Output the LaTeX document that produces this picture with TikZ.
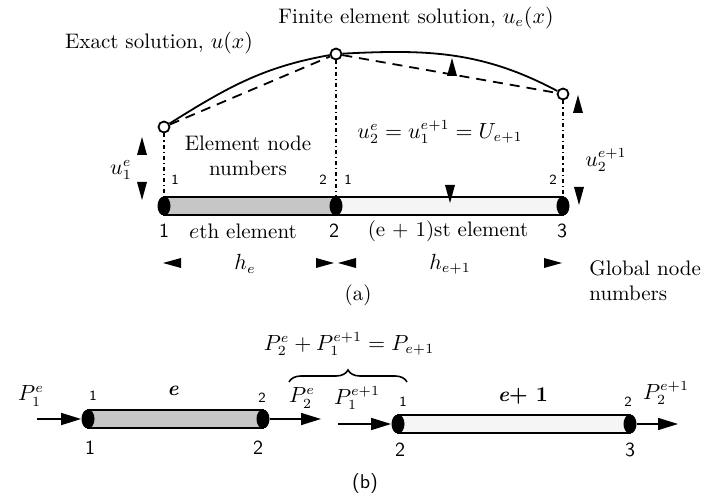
\documentclass[tikz,border=0pt]{standalone}
\usetikzlibrary{arrows.meta,shapes.geometric,decorations.pathreplacing}
\begin{document}
\begin{tikzpicture}[x=0.5pt,y=-0.5pt,
  every node/.style={font=\fontsize{10.5}{12.5}\selectfont,inner sep=1pt},
  opendot/.style={circle,draw,fill=white,line width=0.9pt,minimum size=5.5pt,inner sep=0pt},
  gdot/.style={ellipse,fill=black,minimum width=6.5pt,minimum height=9.5pt,inner sep=0pt},
  lnum/.style={font=\sffamily\scriptsize},
  gnum/.style={font=\sffamily\fontsize{10}{12}\selectfont},
  dimdash/.style={line width=0.6pt,dash pattern=on 2pt off 1.5pt on 0.6pt off 1.5pt},
  force/.style={line width=0.8pt,-{Triangle[length=10pt,width=6pt]}},
  elbar/.style={line width=1pt},
  tri/.pic={\fill (0,0) -- (-5,18) -- (5,18) -- cycle;}]
  \useasboundingbox (0,0) rectangle (713,502);

  % (a) exact and finite element solution
  \node[opendot] (ua) at (164,127) {};
  \node[opendot] (ub) at (336,54) {};
  \node[opendot] (uc) at (563,94) {};
  \draw[line width=0.9pt] (ua) to[out=32,in=190] (ub) to[out=3,in=152] (uc);
  \draw[line width=0.9pt,dash pattern=on 5pt off 3.5pt] (ua) -- (ub) -- (uc);
  \node (exact) at (159,43) {Exact solution, $u(x)$};
  \node (fesol) at (416,18) {Finite element solution, $u_e(x)$};

  % (a) the two elements
  \draw[elbar,fill=gray!45] (164,197) rectangle (336,215);
  \draw[elbar,fill=gray!8] (336,197) rectangle (563,215);
  \node[gdot] (g1) at (164,206) {};
  \node[gdot] (g2) at (336,206) {};
  \node[gdot] (g3) at (563,206) {};
  \draw[dimdash] (ua) -- (g1);
  \draw[dimdash] (ub) -- (g2);
  \draw[dimdash] (uc) -- (g3);

  % local and global numbers
  \node[lnum] (l1) at (175,180) {1};
  \node[lnum] (l2) at (323,180) {2};
  \node[lnum] (l3) at (348,180) {1};
  \node[lnum] (l4) at (553,180) {2};
  \node (elnum) at (248,156) [align=center] {Element node\\numbers};
  \node[gnum] (n1) at (164,231) {1};
  \node (eth) at (243,231) {$e$th element};
  \node[gnum] (n2) at (334,231) {2};
  \node (est) at (448,231) {(e + 1)st element};
  \node[gnum] (n3) at (562,231) {3};

  % nodal values
  \pic at (142,137) {tri};
  \pic[rotate=180] at (142,200) {tri};
  \node (u1e) at (121,170) {$u^e_1$};
  \pic at (452,58) {tri};
  \pic[rotate=180] at (450,203) {tri};
  \node (ushared) at (440,132) {$u^e_2 = u^{e+1}_1 = U_{e+1}$};
  \pic at (578,95) {tri};
  \pic[rotate=180] at (579,205) {tri};
  \node (u2e) at (606,160) {$u^{e+1}_2$};

  % element lengths
  \pic[rotate=90] at (163,263) {tri};
  \pic[rotate=-90] at (334,263) {tri};
  \pic[rotate=90] at (338,263) {tri};
  \pic[rotate=-90] at (562,263) {tri};
  \node (he) at (245,264) {$h_e$};
  \node (he1) at (450,264) {$h_{e+1}$};
  \node (glob) at (587,281) [anchor=west,align=left] {Global node\\numbers};
  \node (capa) at (358,295) {(a)};

  % (b) assembly of the nodal forces
  \node (psum) at (349,344) {$P^e_2 + P^{e+1}_1 = P_{e+1}$};
  \draw[line width=0.8pt,decorate,decoration={brace,amplitude=6pt}] (289,382) -- (407,382);

  \draw[elbar,fill=gray!45] (88,410) rectangle (263,428);
  \draw[elbar,fill=gray!8] (398,415) rectangle (630,433);
  \node[gdot] (b1) at (88,419) {};
  \node[gdot] (b2) at (263,419) {};
  \node[gdot] (b3) at (398,424) {};
  \node[gdot] (b4) at (630,424) {};
  \coordinate (f1) at (37,419);
  \coordinate (f2) at (321,419);
  \coordinate (f3) at (338,424);
  \coordinate (f4) at (678,424);
  \draw[force] (f1) -- (b1);
  \draw[force] (b2) -- (f2);
  \draw[force] (f3) -- (b3);
  \draw[force] (b4) -- (f4);

  \node (p1e) at (31,396) {$P^e_1$};
  \node (p2e) at (302,398) {$P^e_2$};
  \node (p1e1) at (357,398) {$P^{e+1}_1$};
  \node (p2e1) at (666,393) {$P^{e+1}_2$};
  \node[lnum] (m1) at (93,396) {1};
  \node (ele) at (173,391) {\textbf{\textit{e}}};
  \node[lnum] (m2) at (262,398) {2};
  \node[lnum] (m3) at (403,402) {1};
  \node (ele1) at (523,396) {\textbf{\textit{e}+ 1}};
  \node[lnum] (m4) at (628,402) {2};
  \node[gnum] (k1) at (90,448) {1};
  \node[gnum] (k2) at (258,448) {2};
  \node[gnum] (k3) at (400,450) {2};
  \node[gnum] (k4) at (630,450) {3};
  \node[font=\sffamily\fontsize{10}{12}\selectfont] (capb) at (365,483) {(b)};
\end{tikzpicture}
\end{document}
